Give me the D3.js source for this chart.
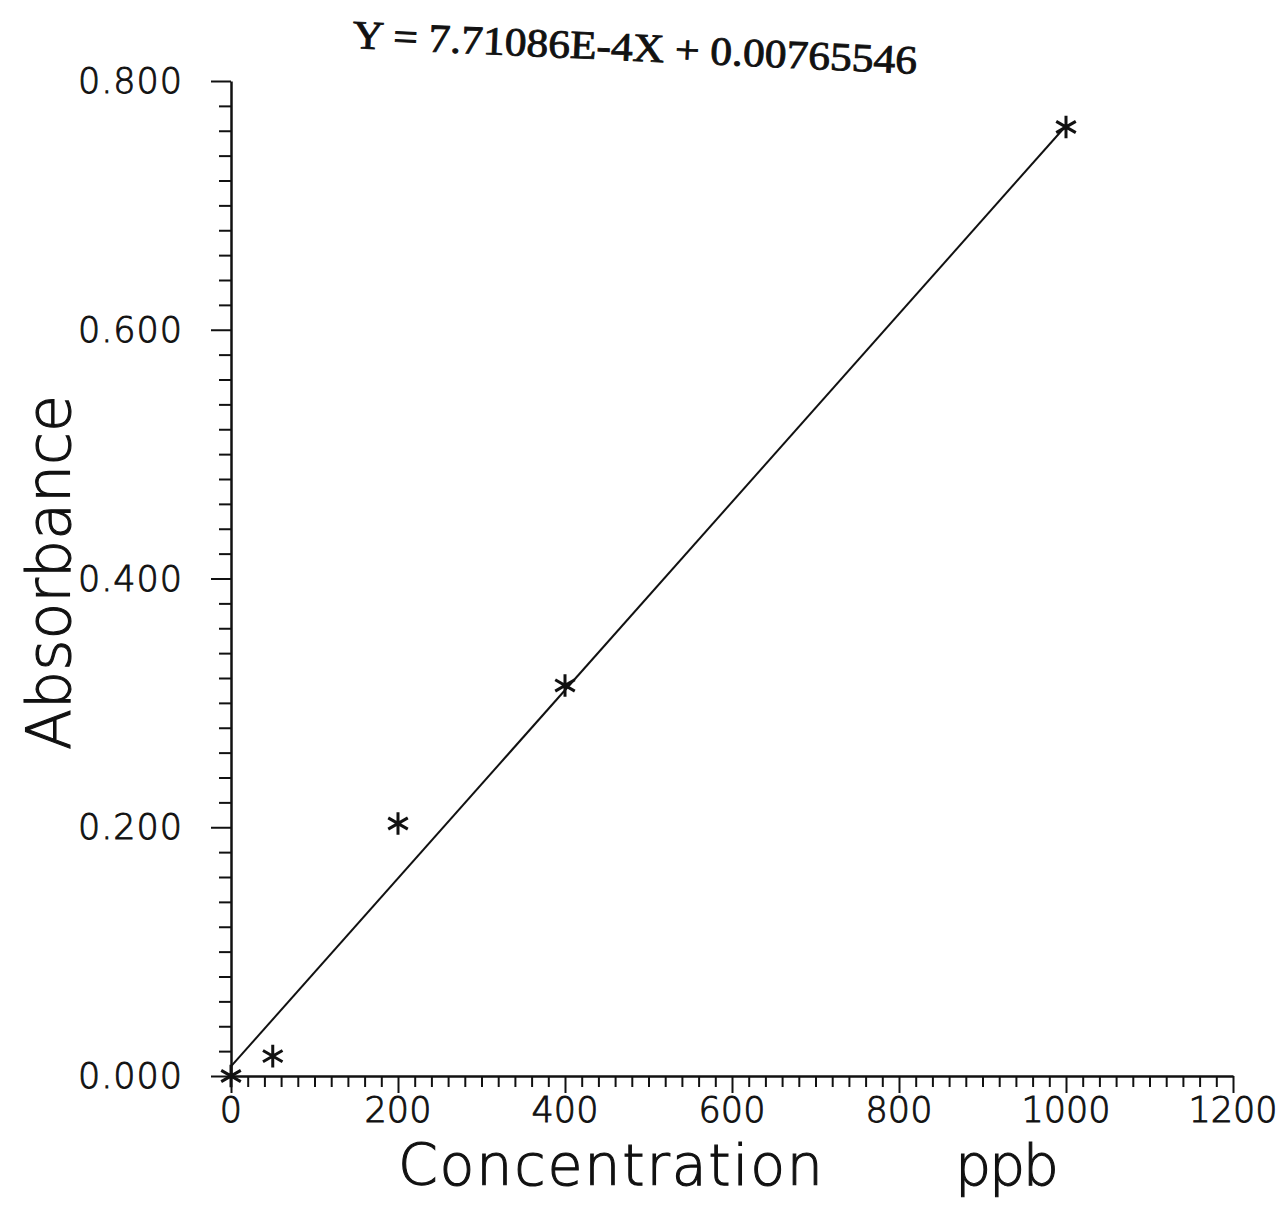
<!DOCTYPE html>
<html>
<head>
<meta charset="utf-8">
<script src="https://cdn.jsdelivr.net/npm/d3@7"></script>
<style>
  body { margin: 0; background: #fff; }
  svg { display: block; }
</style>
</head>
<body>
<div id="chart"></div>
<script>
// calibration data
var concentration = [0, 50, 200, 400, 1000];
var absorbance = [0.000, 0.016, 0.203, 0.314, 0.763];

// fitted line, end points
var fitX = [0, 1000];
var fitY = [0.0077, 0.764];

var xTicks = [0, 200, 400, 600, 800, 1000, 1200];
var yTicks = [0.0, 0.2, 0.4, 0.6, 0.8];
var equation = "Y = 7.71086E-4X + 0.00765546";

var W = 1283, H = 1207;

var svg = d3.select("#chart")
  .append("svg")
    .attr("width", W)
    .attr("height", H);

var x = d3.scaleLinear().domain([0, 1200]).range([231, 1233]);
var y = d3.scaleLinear().domain([0, 0.8]).range([1076, 81]);

var ink = "#111";
var labelFont = "'DejaVu Sans', sans-serif";

// thin font, thickened a bit with a stroke so it reads like the plotter lettering
function plotterText(sel, size, sw) {
  sel.attr("font-family", labelFont)
    .attr("font-weight", 200)
    .attr("font-size", size + "px")
    .attr("fill", ink)
    .attr("stroke", ink)
    .attr("stroke-width", sw);
}

// X axis: ticks point down, minor every 20
var xAxis = d3.axisBottom(x)
  .tickValues(d3.range(0, 1201, 20))
  .tickSizeOuter(0)
  .tickFormat("");
svg.append("g")
  .attr("transform", "translate(0," + y(0) + ")")
  .call(xAxis)
  .call(function(g) {
    g.select(".domain").attr("stroke", ink).attr("stroke-width", 2.5);
    g.selectAll(".tick line")
      .attr("stroke", ink)
      .attr("stroke-width", 2)
      .attr("y2", function(d) { return d % 200 === 0 ? 17 : 11; });
  });

// Y axis: ticks point left, minor every 0.02
var yAxis = d3.axisLeft(y)
  .tickValues(d3.range(0, 41).map(function(i) { return i * 0.02; }))
  .tickSizeOuter(0)
  .tickFormat("");
svg.append("g")
  .attr("transform", "translate(" + x(0) + ",0)")
  .call(yAxis)
  .call(function(g) {
    g.select(".domain").attr("stroke", ink).attr("stroke-width", 2.5);
    g.selectAll(".tick line")
      .attr("stroke", ink)
      .attr("stroke-width", 2)
      .attr("x2", function(d, i) { return i % 10 === 0 ? -20 : -12; });
  });

// tick labels
svg.append("g").selectAll("text")
  .data(xTicks)
  .enter()
  .append("text")
    .attr("x", function(d) { return x(d); })
    .attr("y", 1122)
    .attr("text-anchor", "middle")
    .call(plotterText, 35, 0.9)
    .text(function(d) { return d; });

svg.append("g").selectAll("text")
  .data(yTicks)
  .enter()
  .append("text")
    .attr("x", 182)
    .attr("y", function(d) { return y(d) + 12; })
    .attr("text-anchor", "end")
    .attr("textLength", 104)
    .attr("lengthAdjust", "spacing")
    .call(plotterText, 35, 0.9)
    .text(function(d) { return d.toFixed(3); });

// axis titles
svg.append("text")
  .attr("x", 398)
  .attr("y", 1185)
  .attr("textLength", 425)
  .attr("lengthAdjust", "spacing")
  .call(plotterText, 57, 1.1)
  .text("Concentration");

svg.append("text")
  .attr("x", 955)
  .attr("y", 1185)
  .attr("textLength", 104)
  .attr("lengthAdjust", "spacing")
  .call(plotterText, 57, 1.1)
  .text("ppb");

svg.append("text")
  .attr("transform", "translate(70,750) rotate(-90)")
  .attr("textLength", 355)
  .attr("lengthAdjust", "spacing")
  .call(plotterText, 60, 1.1)
  .text("Absorbance");

// equation title, slightly skewed as in the scan
svg.append("text")
  .attr("transform", "translate(352,48) rotate(2.6)")
  .attr("font-family", "'Liberation Serif', 'Times New Roman', serif")
  .attr("font-size", "40px")
  .attr("textLength", 565)
  .attr("lengthAdjust", "spacingAndGlyphs")
  .attr("fill", ink)
  .attr("stroke", ink)
  .attr("stroke-width", 0.9)
  .text(equation);

// regression line
var line = d3.line()
  .x(function(d) { return x(d[0]); })
  .y(function(d) { return y(d[1]); });
svg.append("path")
  .datum(d3.zip(fitX, fitY))
  .attr("d", line)
  .attr("fill", "none")
  .attr("stroke", ink)
  .attr("stroke-width", 2);

// data points as asterisks
var star = d3.symbol().type(d3.symbolAsterisk).size(360);
svg.selectAll(".pt")
  .data(d3.zip(concentration, absorbance))
  .enter()
  .append("path")
    .attr("class", "pt")
    .attr("transform", function(d) { return "translate(" + x(d[0]) + "," + y(d[1]) + ")"; })
    .attr("d", star)
    .attr("fill", "none")
    .attr("stroke", ink)
    .attr("stroke-width", 3);
</script>
</body>
</html>
